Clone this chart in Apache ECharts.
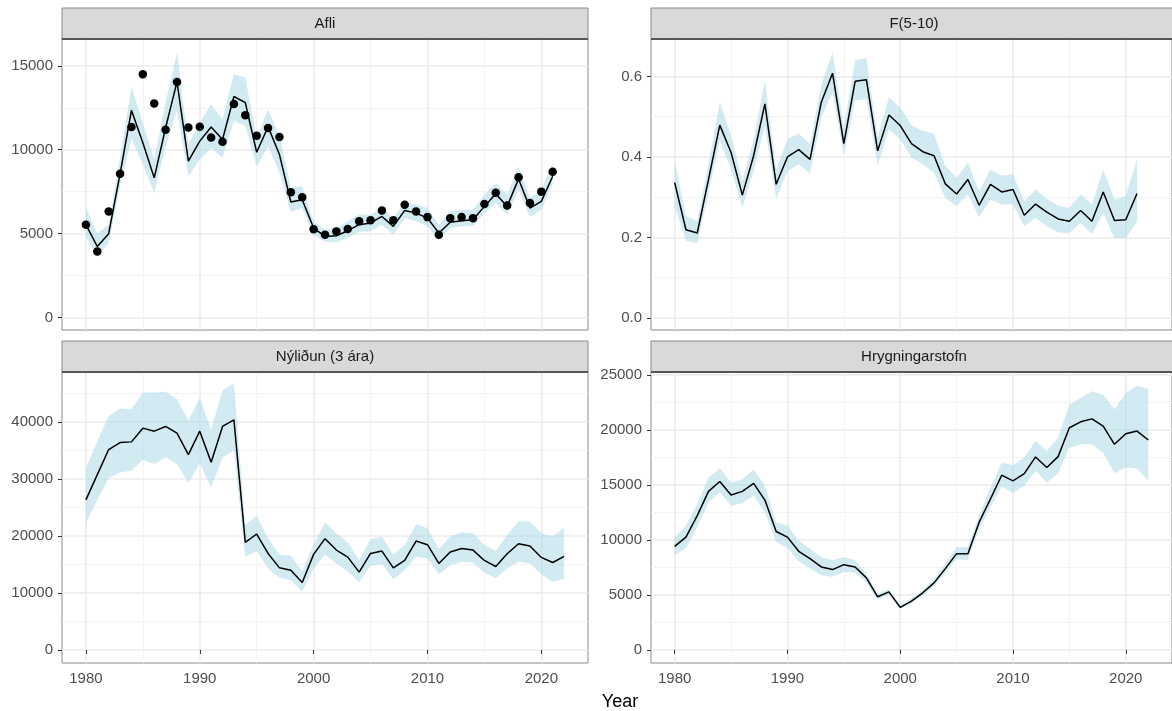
<!DOCTYPE html>
<html>
<head>
<meta charset="utf-8">
<script src="https://cdn.jsdelivr.net/npm/echarts@6/dist/echarts.min.js"></script>
<style>
  html, body { margin: 0; padding: 0; background: #fff; }
  #chart { width: 1172px; height: 711px; }
</style>
</head>
<body>
<div id="chart"></div>
<script>
// Assessment years
const years = [1980,1981,1982,1983,1984,1985,1986,1987,1988,1989,1990,1991,1992,1993,1994,1995,1996,1997,1998,1999,
               2000,2001,2002,2003,2004,2005,2006,2007,2008,2009,2010,2011,2012,2013,2014,2015,2016,2017,2018,2019,2020,2021];
const yearsRec = [1980,1981,1982,1983,1984,1985,1986,1987,1988,1989,1990,1991,1992,1993,1994,1995,1996,1997,1998,1999,
                  2000,2001,2002,2003,2004,2005,2006,2007,2008,2009,2010,2011,2012,2013,2014,2015,2016,2017,2018,2019,2020,2021,2022];

// Afli: observed catch (points), model fit and interval
const afliObs = [5530,3930,6320,8560,11350,14500,12750,11190,14040,11330,11370,10730,10470,12730,12050,10830,11290,10750,7460,7160,
                 5250,4930,5130,5270,5730,5800,6380,5790,6720,6320,5980,4930,5920,5980,5920,6760,7440,6680,8360,6820,7500,8680];
const afliFit = [5530,4230,4990,8560,12350,10410,8320,11310,14040,9320,10510,11350,10610,13170,12810,9850,11370,9710,6880,7020,
                 5330,4830,4870,5170,5530,5630,6020,5430,6380,6220,5920,5030,5670,5770,5820,6620,7380,6620,8260,6520,6920,8420];
const afliLo  = [4830,3630,4430,7820,10650,9120,7420,10210,12310,8420,9420,10110,9520,11710,11410,9020,10210,8620,6280,6520,
                 4930,4530,4470,4730,5130,5130,5530,4930,5920,5730,5430,4630,5330,5430,5430,6220,6820,6120,7620,5980,6420,7920];
const afliHi  = [6520,5030,5530,9520,13760,11610,9420,12810,15800,10310,11610,12710,11810,14500,14300,10710,12410,10810,7720,7820,
                 5730,5230,5330,5730,6120,6120,6520,5920,6860,6720,6520,5530,6320,6420,6420,7320,8020,7320,9020,7120,7620,9220];

// F(5-10): fishing mortality
const fMid = [0.336,0.219,0.211,0.344,0.479,0.411,0.305,0.403,0.532,0.332,0.400,0.418,0.394,0.536,0.608,0.433,0.588,0.592,0.415,0.504,
              0.478,0.433,0.413,0.403,0.333,0.308,0.344,0.280,0.332,0.313,0.319,0.255,0.283,0.263,0.246,0.240,0.267,0.240,0.313,0.242,0.244,0.309];
const fLo  = [0.278,0.192,0.186,0.311,0.440,0.369,0.273,0.365,0.478,0.296,0.365,0.382,0.358,0.498,0.561,0.403,0.540,0.543,0.379,0.468,
              0.444,0.398,0.382,0.361,0.298,0.278,0.307,0.250,0.294,0.282,0.282,0.228,0.248,0.228,0.213,0.211,0.236,0.208,0.261,0.198,0.198,0.240];
const fHi  = [0.390,0.253,0.240,0.382,0.536,0.453,0.340,0.444,0.590,0.369,0.444,0.458,0.432,0.579,0.661,0.473,0.640,0.646,0.448,0.548,
              0.523,0.479,0.465,0.457,0.378,0.348,0.386,0.315,0.369,0.353,0.357,0.290,0.319,0.296,0.279,0.273,0.307,0.282,0.369,0.294,0.303,0.394];

// Nýliðun (3 ára): recruitment
const recMid = [26350,30770,35180,36410,36530,38940,38410,39240,38060,34290,38410,32940,39240,40410,18880,20350,16940,14410,14000,11820,
                16770,19530,17530,16290,13650,16940,17350,14410,15710,19120,18470,15180,17180,17820,17530,15710,14650,16880,18650,18240,16240,15350,16410];
const recLo  = [22240,26350,30180,31180,31470,33410,32650,33820,32650,29290,32820,28530,33820,35000,16350,17350,14290,12650,12240,10180,
                14290,16770,15180,13820,11820,14770,15060,12410,14000,16350,16060,13240,14880,15470,15350,13590,12530,14290,15470,15180,13240,11940,12530];
const recHi  = [31940,36650,41060,42410,42240,45180,45180,45350,44000,40290,44290,38710,45590,46770,21940,23590,19590,16770,16530,13820,
                18530,22410,20470,18880,15770,19470,19880,16770,18410,22060,21350,17710,19880,20650,20470,18410,17350,20180,22530,22530,20470,20000,21470];

// Hrygningarstofn: spawning stock
const ssbMid = [9400,10240,12200,14400,15300,14070,14400,15120,13610,10750,10240,8950,8280,7530,7290,7740,7530,6540,4820,5270,
                3860,4430,5180,6080,7380,8740,8740,11600,13710,15870,15360,16020,17530,16570,17560,20180,20720,20990,20330,18680,19640,19880,19070];
const ssbLo  = [8580,9250,11140,13400,14310,13100,13310,14010,12500,9790,9250,8040,7380,6780,6630,7080,7020,6120,4520,4970,
                3710,4220,4910,5810,7020,8220,8130,10990,12950,14850,14250,14910,16270,15210,16050,18370,18680,18680,17920,16050,16570,16480,15360];
const ssbHi  = [10240,11300,13250,15660,16510,15210,15510,16360,14910,11600,11300,9940,9190,8430,8130,8430,8130,6930,5120,5510,
                4070,4670,5420,6420,7830,9340,9340,12200,14760,17020,16780,17470,18980,18070,19280,22290,22890,23490,23190,21840,23340,24010,23710];

// Panel titles and axis ticks
const panelTitles = ['Afli', 'F(5-10)', 'Nýliðun (3 ára)', 'Hrygningarstofn'];
const yearTicks = [1980, 1990, 2000, 2010, 2020];
const afliTicks = [0, 5000, 10000, 15000];
const fTicks = [0, 0.2, 0.4, 0.6];
const recTicks = [0, 10000, 20000, 30000, 40000];
const ssbTicks = [0, 5000, 10000, 15000, 20000, 25000];
const xTitle = 'Year';

const FONT = '"Liberation Sans", Arial, Helvetica, sans-serif';
const BAND = 'rgba(173,216,230,0.55)';

// panel geometry (left, top) and shared size
const PW = 526, PH = 291, STRIP = 31;
const panels = [
  { left: 62,  top: 39,  ymin: -750,  ymax: 16600, split: 4, ticks: afliTicks, fmt: v => String(v) },
  { left: 651, top: 39,  ymin: -0.03, ymax: 0.693, split: 4, ticks: fTicks,    fmt: v => Number(v).toFixed(1) },
  { left: 62,  top: 372, ymin: -2300, ymax: 48800, split: 5, ticks: recTicks,  fmt: v => String(v) },
  { left: 651, top: 372, ymin: -1200, ymax: 25250, split: 5, ticks: ssbTicks,  fmt: v => String(v) }
];

const grids = panels.map(p => ({
  left: p.left, top: p.top, width: PW, height: PH,
  show: true, borderColor: '#8a8a8a', borderWidth: 1, backgroundColor: 'transparent',
  containLabel: false
}));

const xAxes = panels.map((p, i) => ({
  type: 'value', gridIndex: i, min: 1977.9, max: 2024.1, splitNumber: 5,
  axisLine: { show: false },
  axisTick: { show: i >= 2, customValues: yearTicks, length: 4, lineStyle: { color: '#333', width: 1 } },
  axisLabel: { show: i >= 2, customValues: yearTicks, margin: 8, fontSize: 15, color: '#4d4d4d', fontFamily: FONT,
               formatter: v => String(Math.round(v)) },
  splitLine: { show: true, lineStyle: { color: '#ebebeb', width: 1.6 } },
  minorTick: { show: false, splitNumber: 2 },
  minorSplitLine: { show: true, lineStyle: { color: '#f3f3f3', width: 1 } }
}));

const yAxes = panels.map((p, i) => ({
  type: 'value', gridIndex: i, min: p.ymin, max: p.ymax, splitNumber: p.split,
  axisLine: { show: false },
  axisTick: { show: true, customValues: p.ticks, length: 4, lineStyle: { color: '#333', width: 1 } },
  axisLabel: { show: true, customValues: p.ticks, margin: 9, fontSize: 15, color: '#4d4d4d', fontFamily: FONT, formatter: p.fmt },
  splitLine: { show: true, lineStyle: { color: '#ebebeb', width: 1.6 } },
  minorTick: { show: false, splitNumber: 2 },
  minorSplitLine: { show: true, lineStyle: { color: '#f3f3f3', width: 1 } }
}));

// interval ribbon drawn as one polygon through the axis scales
function band(gi, xs, lo, hi) {
  return {
    type: 'custom', xAxisIndex: gi, yAxisIndex: gi, silent: true, z: 1,
    data: xs.map((x, k) => [x, lo[k], hi[k]]),
    encode: { x: 0, y: [1, 2] },
    renderItem: function (params, api) {
      if (params.dataIndex !== 0) return null;
      const pts = [];
      for (let k = 0; k < xs.length; k++) pts.push(api.coord([xs[k], hi[k]]));
      for (let k = xs.length - 1; k >= 0; k--) pts.push(api.coord([xs[k], lo[k]]));
      return { type: 'polygon', shape: { points: pts }, style: { fill: BAND, stroke: null } };
    }
  };
}

function line(gi, xs, vals) {
  return {
    type: 'line', xAxisIndex: gi, yAxisIndex: gi, silent: true, z: 3,
    data: xs.map((x, k) => [x, vals[k]]),
    symbol: 'none', lineStyle: { color: '#000', width: 1.5 }
  };
}

const series = [
  band(0, years, afliLo, afliHi),
  line(0, years, afliFit),
  {
    type: 'scatter', xAxisIndex: 0, yAxisIndex: 0, silent: true, z: 4,
    data: years.map((x, k) => [x, afliObs[k]]),
    symbol: 'circle', symbolSize: 8.5, itemStyle: { color: '#000', opacity: 1 }
  },
  band(1, years, fLo, fHi),
  line(1, years, fMid),
  band(2, yearsRec, recLo, recHi),
  line(2, yearsRec, recMid),
  band(3, yearsRec, ssbLo, ssbHi),
  line(3, yearsRec, ssbMid)
];

// facet strips
const graphics = [];
panels.forEach((p, i) => {
  const sy = p.top - STRIP;
  graphics.push({
    type: 'rect', shape: { x: p.left, y: sy, width: PW, height: STRIP },
    style: { fill: '#d9d9d9', stroke: '#8a8a8a', lineWidth: 1 }, z: 10
  });
  graphics.push({
    type: 'line', shape: { x1: p.left, y1: p.top, x2: p.left + PW, y2: p.top },
    style: { stroke: '#3a3a3a', lineWidth: 1.5 }, z: 11
  });
  graphics.push({
    type: 'text', x: p.left + PW / 2, y: sy + STRIP / 2,
    style: { text: panelTitles[i], fill: '#1a1a1a', font: '15px ' + FONT, align: 'center', verticalAlign: 'middle' }, z: 12
  });
});
graphics.push({
  type: 'text', x: 620, y: 702,
  style: { text: xTitle, fill: '#000', font: '18px ' + FONT, align: 'center', verticalAlign: 'middle' }, z: 12
});

const chart = echarts.init(document.getElementById('chart'), null, { renderer: 'canvas' });
chart.setOption({
  animation: false,
  backgroundColor: '#fff',
  grid: grids,
  xAxis: xAxes,
  yAxis: yAxes,
  series: series,
  graphic: { elements: graphics }
});
</script>
</body>
</html>
